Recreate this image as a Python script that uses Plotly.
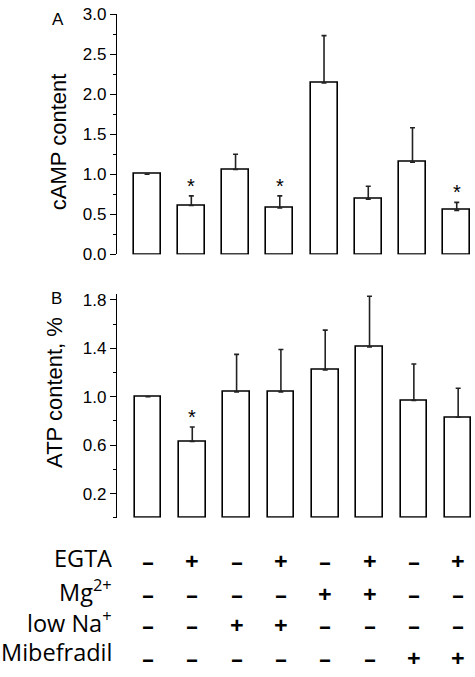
import plotly.graph_objects as go

# ---- data ----
conditions = list(range(8))
camp_values = [1.00, 0.61, 1.06, 0.58, 2.14, 0.69, 1.15, 0.55]
camp_errors = [0.00, 0.12, 0.19, 0.15, 0.59, 0.16, 0.43, 0.10]
camp_stars = [False, True, False, True, False, False, False, True]

atp_values = [1.00, 0.63, 1.04, 1.04, 1.22, 1.41, 0.97, 0.83]
atp_errors = [0.00, 0.12, 0.31, 0.35, 0.33, 0.42, 0.30, 0.24]
atp_stars = [False, True, False, False, False, False, False, False]

camp_ticks = [0.0, 0.5, 1.0, 1.5, 2.0, 2.5, 3.0]
atp_ticks = [0.2, 0.6, 1.0, 1.4, 1.8]

row_labels = ["EGTA", "Mg<sup>2+</sup>", "low Na<sup>+</sup>", "Mibefradil"]
row_signs = [
    ["-", "+", "-", "+", "-", "+", "-", "+"],
    ["-", "-", "-", "-", "+", "+", "-", "-"],
    ["-", "-", "+", "+", "-", "-", "-", "-"],
    ["-", "-", "-", "-", "-", "-", "+", "+"],
]

W, H = 475, 677
AXFONT = "Liberation Sans, Arial, sans-serif"
TBLFONT = "Open Sans, sans-serif"

fig = go.Figure()

bar_style = dict(marker=dict(color="white", line=dict(color="black", width=1.6)),
                 showlegend=False, hoverinfo="skip")

fig.add_trace(go.Bar(x=conditions, y=camp_values, width=0.61,
                     error_y=dict(type="data", symmetric=False, array=camp_errors,
                                  arrayminus=[0] * 8, color="#222", thickness=1.6, width=2.5),
                     xaxis="x", yaxis="y", **bar_style))
fig.add_trace(go.Bar(x=conditions, y=atp_values, width=0.6,
                     error_y=dict(type="data", symmetric=False, array=atp_errors,
                                  arrayminus=[0] * 8, color="#222", thickness=1.6, width=2.5),
                     xaxis="x2", yaxis="y2", **bar_style))

annotations = []
for i, (v, e, s) in enumerate(zip(camp_values, camp_errors, camp_stars)):
    if s:
        annotations.append(dict(x=i, y=v + e, xref="x", yref="y", text="*", showarrow=False,
                                xanchor="center", yanchor="middle", yshift=10,
                                font=dict(family=AXFONT, size=20, color="black")))
for i, (v, e, s) in enumerate(zip(atp_values, atp_errors, atp_stars)):
    if s:
        annotations.append(dict(x=i, y=v + e, xref="x2", yref="y2", text="*", showarrow=False,
                                xanchor="center", yanchor="middle", yshift=10,
                                font=dict(family=AXFONT, size=20, color="black")))

# panel letters and axis titles
annotations += [
    dict(x=58 / W, y=1 - 11 / H, xref="paper", yref="paper", text="A", showarrow=False,
         xanchor="center", yanchor="middle",
         font=dict(family=AXFONT, size=17, color="black")),
    dict(x=56 / W, y=1 - 298 / H, xref="paper", yref="paper", text="B", showarrow=False,
         xanchor="center", yanchor="middle",
         font=dict(family=AXFONT, size=17, color="black")),
    dict(x=58 / W, y=1 - 137 / H, xref="paper", yref="paper", text="cAMP content",
         textangle=-90, showarrow=False, xanchor="center", yanchor="middle",
         font=dict(family=AXFONT, size=22, color="black")),
    dict(x=55 / W, y=1 - 395 / H, xref="paper", yref="paper", text="ATP content, %",
         textangle=-90, showarrow=False, xanchor="center", yanchor="middle",
         font=dict(family=AXFONT, size=22, color="black")),
]

# condition table
label_y = [565, 598, 630, 662]
sign_y = [567, 601, 633, 667]
for r, lab in enumerate(row_labels):
    annotations.append(dict(x=114 / W, y=1 - label_y[r] / H, xref="paper", yref="paper",
                            text=lab, showarrow=False, xanchor="right", yanchor="middle",
                            font=dict(family=TBLFONT, size=23.5, color="black")))
    for i, sg in enumerate(row_signs[r]):
        is_plus = sg == "+"
        annotations.append(dict(x=i, y=1 - sign_y[r] / H, xref="x2", yref="paper",
                                text="<b>+</b>" if is_plus else "<b>–</b>",
                                showarrow=False, xanchor="center", yanchor="middle",
                                font=dict(family=TBLFONT, size=24, color="black")))

yaxis_common = dict(showgrid=False, zeroline=False, showline=True, linecolor="black",
                    linewidth=1.2, ticks="outside", ticklen=6, tickwidth=1.2,
                    tickcolor="black", ticklabeloverflow="allow",
                    tickfont=dict(family=AXFONT, size=17, color="black"))

fig.update_layout(
    width=W, height=H,
    margin=dict(l=0, r=0, t=0, b=0),
    paper_bgcolor="white", plot_bgcolor="white",
    bargap=0,
    xaxis=dict(domain=[117 / W, 1], range=[-0.68, 7.413], visible=False, fixedrange=True),
    xaxis2=dict(domain=[113 / W, 1], range=[-0.789, 7.38], visible=False, fixedrange=True),
    yaxis=dict(domain=[1 - 252.5 / H, 1 - 5 / H], range=[0, 3.002], tickvals=camp_ticks,
               ticktext=[f"{t:.1f}" for t in camp_ticks],
               minor=dict(tick0=0, dtick=0.25, ticklen=3, ticks="outside", tickcolor="black",
                          tickwidth=1.2),
               **yaxis_common),
    yaxis2=dict(domain=[1 - 523.5 / H, 1 - 293 / H], range=[0, 1.85], tickvals=atp_ticks,
                ticktext=[f"{t:.1f}" for t in atp_ticks],
                minor=dict(tick0=0, dtick=0.2, ticklen=3, ticks="outside", tickcolor="black",
                           tickwidth=1.2),
                **yaxis_common),
    annotations=annotations,
)

fig.write_html("out.html", config={"displayModeBar": False},
               post_script="document.body.style.margin='0';document.body.style.overflow='hidden';")
